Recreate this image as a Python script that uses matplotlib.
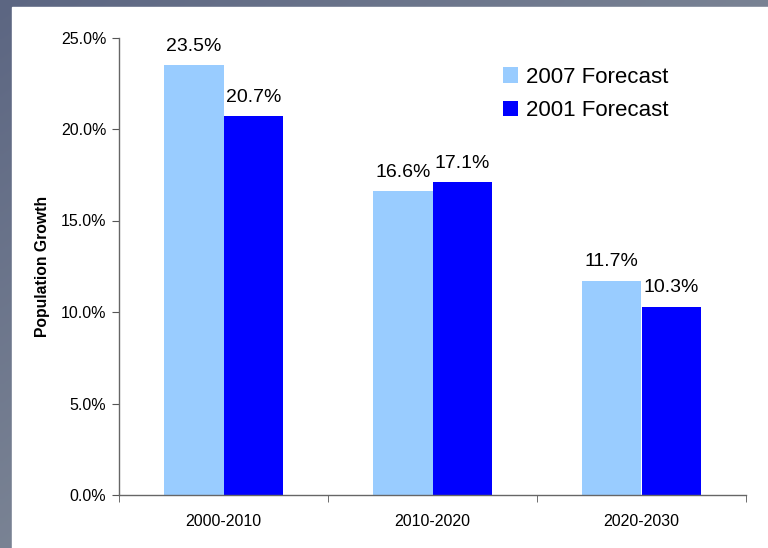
import numpy as np
import matplotlib.pyplot as plt
from matplotlib.ticker import FuncFormatter, FixedLocator

periods = ["2000-2010", "2010-2020", "2020-2030"]
forecast_2007 = [23.5, 16.6, 11.7]
forecast_2001 = [20.7, 17.1, 10.3]
series_names = ["2007 Forecast", "2001 Forecast"]
yticks = [0, 5, 10, 15, 20, 25]

plt.rcParams['font.family'] = ['Liberation Sans', 'DejaVu Sans']

fig = plt.figure(figsize=(7.68, 5.48), dpi=100)
fig.patch.set_facecolor("white")

# slide background: grey-blue band top and left
bg = fig.add_axes([0, 0, 1, 1], zorder=-10)
gx, gy = np.meshgrid(np.linspace(0, 1, 200), np.linspace(0, 1, 200))
t = np.clip((gx + gy) / 1.3, 0, 1)
c0 = np.array([0x5c, 0x66, 0x82]) / 255
c1 = np.array([0x82, 0x8b, 0x99]) / 255
img = c0[None, None, :] * (1 - t[..., None]) + c1[None, None, :] * t[..., None]
bg.imshow(img, extent=[0, 1, 0, 1], aspect='auto', origin='upper')
bg.add_patch(plt.Rectangle((12 / 768, 0), 1, 1 - 7 / 548, color="white", zorder=2))
bg.set_xlim(0, 1)
bg.set_ylim(0, 1)
bg.axis("off")

ax = fig.add_axes([119 / 768, 1 - 495 / 548, (746 - 119) / 768, (495 - 37.5) / 548])
ax.set_facecolor("none")

x = np.arange(len(periods))
w = 0.285
b1 = ax.bar(x - w / 2, forecast_2007, w, color="#99CCFF", label=series_names[0])
b2 = ax.bar(x + w / 2, forecast_2001, w, color="#0000FF", label=series_names[1])

for bars, vals in ((b1, forecast_2007), (b2, forecast_2001)):
    for r, v in zip(bars, vals):
        ax.annotate(f"{v:.1f}%", (r.get_x() + r.get_width() / 2, v),
                    xytext=(0, 7.5), textcoords="offset points",
                    ha="center", va="bottom", fontsize=14)

ax.set_xlim(-0.5, 2.5)
ax.set_ylim(0, 25)
ax.set_yticks(yticks)
ax.yaxis.set_major_formatter(FuncFormatter(lambda v, p: f"{v:.1f}%"))
ax.set_xticks(x)
ax.set_xticklabels(periods)
ax.xaxis.set_minor_locator(FixedLocator([-0.5, 0.5, 1.5, 2.5]))
ax.tick_params(axis="x", which="major", length=0, pad=14, labelsize=11.5)
ax.tick_params(axis="x", which="minor", length=5, direction="out", color="#555555")
ax.tick_params(axis="y", length=5, direction="out", color="#555555", labelsize=11.5, pad=4)

for s in ("top", "right"):
    ax.spines[s].set_visible(False)
for s in ("left", "bottom"):
    ax.spines[s].set_color("#666666")
    ax.spines[s].set_linewidth(1)

ax.set_ylabel("Population Growth", fontsize=11.3, fontweight="bold", labelpad=8)

ax.legend(loc="upper left", bbox_to_anchor=(375 / 627, 0.955), frameon=False, fontsize=16,
          handlelength=0.7, handleheight=0.7, handletextpad=0.35, labelspacing=0.55,
          borderaxespad=0)

fig.savefig("out.png", dpi=100)
